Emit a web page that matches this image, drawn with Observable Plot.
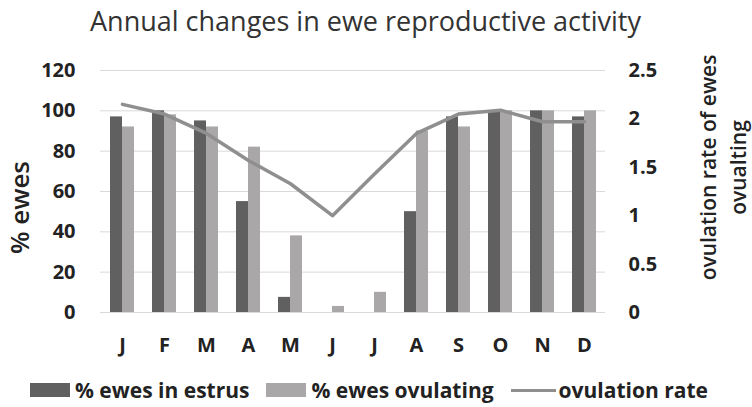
<!DOCTYPE html>
<html>
<head>
<meta charset="utf-8">
<script src="https://cdn.jsdelivr.net/npm/d3@7"></script>
<script src="https://cdn.jsdelivr.net/npm/@observablehq/plot@0.6"></script>
<style>
  html, body { margin: 0; padding: 0; background: #fff; }
  #wrap { position: relative; width: 752px; height: 407px; overflow: hidden; font-family: "Open Sans", sans-serif; }
  #title { position: absolute; left: 0; top: 1px; width: 752px; height: 40px; text-align: left; padding-left: 90px; box-sizing: border-box;
           font-size: 27px; line-height: 40px; color: #333; font-weight: 400; white-space: nowrap; }
  #chart { position: absolute; left: 0; top: 40px; }
  #legend { position: absolute; left: 30px; top: 377px; display: flex; align-items: center; font-weight: 700; font-size: 21px; line-height: 26px; color: #222; white-space: nowrap; }
  .sw { width: 40px; height: 14px; margin-right: 5px; }
  .ln { width: 45px; height: 3px; margin-right: 3px; }
  .item { display: flex; align-items: center; margin-right: 17px; }
</style>
</head>
<body>
<div id="wrap">
  <div id="title">Annual changes in ewe reproductive activity</div>
  <div id="chart"></div>
  <div id="legend"></div>
</div>
<script>
const months = ["J", "F", "M", "A", "M ", "J ", "J  ", "A ", "S", "O", "N", "D"];
const monthLabels = ["J", "F", "M", "A", "M", "J", "J", "A", "S", "O", "N", "D"];
const estrus = [97, 100, 95, 55, 7.5, 0, 0, 50, 97, 100, 100, 97];
const ovulating = [92, 98, 92, 82, 38, 3, 10, 90, 92, 100, 100, 100];
const ovulationRate = [2.15, 2.05, 1.85, 1.57, 1.33, 1.0, 1.43, 1.85, 2.05, 2.09, 1.97, 1.97];
const leftTicks = [0, 20, 40, 60, 80, 100, 120];
const rightTicks = [0, 0.5, 1, 1.5, 2, 2.5];
const seriesNames = ["% ewes in estrus", "% ewes ovulating", "ovulation rate"];
const colors = ["#606060", "#aaa7a9", "#8f8f8f"];

const k = 120 / 2.5; // right axis mapped onto left scale
const data = months.map((m, i) => ({ month: m, label: monthLabels[i], estrus: estrus[i], ovulating: ovulating[i], rate: ovulationRate[i] }));

const chart = Plot.plot({
  width: 752,
  height: 330,
  marginTop: 30,
  marginBottom: 58,
  marginLeft: 100,
  marginRight: 147,
  style: { fontFamily: "Open Sans, sans-serif", background: "transparent" },
  x: { type: "band", domain: months, padding: 0 },
  y: { domain: [0, 120] },
  marks: [
    Plot.gridY(leftTicks, { stroke: "#d9d9d9", strokeOpacity: 1, strokeWidth: 1 }),
    Plot.barY(data, { x: "month", y: "estrus", fill: colors[0], insetLeft: 9, insetRight: 21 }),
    Plot.barY(data, { x: "month", y: "ovulating", fill: colors[1], insetLeft: 21, insetRight: 9 }),
    Plot.lineY(data, { x: "month", y: d => d.rate * k, stroke: colors[2], strokeWidth: 3.5, curve: "linear" }),
    Plot.axisX({ tickSize: 0, tickPadding: 25, tickFormat: (d, i) => monthLabels[i], fontSize: 20, fontWeight: 700, fill: "#222", label: null }),
    Plot.axisY(leftTicks, { anchor: "left", tickSize: 0, tickPadding: 25, fontSize: 20, fontWeight: 700, fill: "#222", label: null }),
    Plot.axisY(rightTicks.map(v => v * k), { anchor: "right", tickSize: 0, tickPadding: 23, tickFormat: d => String(+(d / k).toFixed(1)), fontSize: 20, fontWeight: 700, fill: "#222", textAnchor: "start", label: null }),
    Plot.text(["% ewes"], { frameAnchor: "left", textAnchor: "middle", dx: -80, dy: 16, rotate: -90, fontSize: 26, fontWeight: 600, fill: "#222" }),
    Plot.text(["ovulation rate of ewes\novualting"], { frameAnchor: "right", textAnchor: "middle", dx: 116, dy: -24, rotate: -90, fontSize: 21, fontWeight: 600, fill: "#222", lineHeight: 1.43, lineAnchor: "middle" })
  ]
});
document.getElementById("chart").appendChild(chart);

const legend = document.getElementById("legend");
seriesNames.forEach((name, i) => {
  const item = document.createElement("div");
  item.className = "item";
  const sw = document.createElement("div");
  sw.className = i < 2 ? "sw" : "ln";
  sw.style.background = colors[i];
  item.appendChild(sw);
  const t = document.createElement("span");
  t.textContent = name;
  item.appendChild(t);
  legend.appendChild(item);
});
</script>
</body>
</html>
